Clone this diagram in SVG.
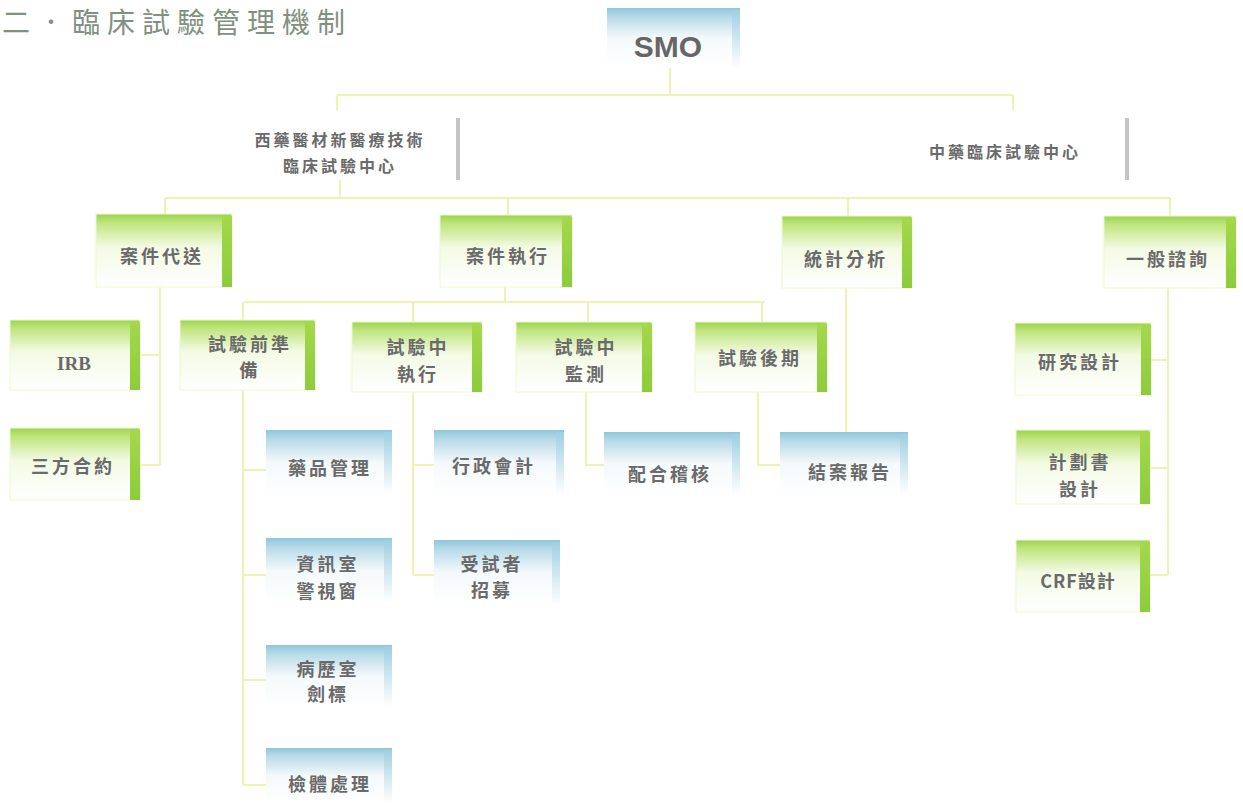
<svg xmlns="http://www.w3.org/2000/svg" width="1243" height="803" viewBox="0 0 1243 803">
<defs>
<linearGradient id="gG" x1="0" y1="0" x2="0" y2="1">
<stop offset="0" stop-color="#9cd44c"/>
<stop offset="0.12" stop-color="#bfe57e"/>
<stop offset="0.45" stop-color="#f3fae4"/>
<stop offset="1" stop-color="#ffffff"/>
</linearGradient>
<linearGradient id="gGs" x1="0" y1="0" x2="0" y2="1">
<stop offset="0" stop-color="#a4d84a"/>
<stop offset="1" stop-color="#8ccc3a"/>
</linearGradient>
<linearGradient id="gB" x1="0" y1="0" x2="0" y2="1">
<stop offset="0" stop-color="#8fc6dc"/>
<stop offset="0.15" stop-color="#b8dbe8"/>
<stop offset="0.5" stop-color="#f4f9fb"/>
<stop offset="1" stop-color="#ffffff"/>
</linearGradient>
<linearGradient id="gBs" x1="0" y1="0" x2="0" y2="1">
<stop offset="0" stop-color="#9fcfe2"/>
<stop offset="1" stop-color="#ffffff"/>
</linearGradient>
</defs>
<style>
.g{fill:url(#gG);stroke:#eef7d2;stroke-width:1}
.gs{fill:url(#gGs)}
.b{fill:url(#gB)}
.bs{fill:url(#gBs)}
.t{font-family:"Noto Sans CJK TC","Noto Sans CJK SC",sans-serif;font-weight:bold;fill:#6a6a6a;text-anchor:middle;font-size:18px;letter-spacing:3px}
.lab{font-size:16px}
.c{stroke:#eef3b4;stroke-width:2;fill:none}
.bar{fill:#c4c4c4}
</style>
<rect width="1243" height="803" fill="#ffffff"/>
<text x="2" y="33" style="font-family:'Noto Sans CJK TC','Noto Sans CJK SC',sans-serif;font-size:28px;fill:#82907f;letter-spacing:7px">二．臨床試驗管理機制</text>

<g id="connectors">
<path class="c" d="M670 68V95M337 95H1013M337 95V110M1013 95V110"/>
<path class="c" d="M340 180V198M165 198H1170M165 198V214M508 198V215M848 198V216M1170 198V216"/>
<path class="c" d="M160 287V465M140 355H160M140 465H160"/>
<path class="c" d="M505 287V302M243 302H765M243 302V320M413 302V322M588 302V322M762 302V322"/>
<path class="c" d="M243 390V785M243 470H266M243 575H266M243 680H266M243 785H266"/>
<path class="c" d="M413 392V575M413 465H434M413 575H434"/>
<path class="c" d="M586 392V465H604"/>
<path class="c" d="M758 392V465H780"/>
<path class="c" d="M846 287V432"/>
<path class="c" d="M1168 287V575M1150 360H1168M1150 468H1168M1150 575H1168"/>
</g>

<g id="smo">
<rect class="b" x="607" y="8" width="133" height="60"/>
<rect class="bs" x="732" y="10" width="8" height="58"/>
<text x="668" y="57" style="font-family:'Liberation Sans',sans-serif;font-weight:bold;font-size:30px;fill:#666;text-anchor:middle">SMO</text>
</g>

<g id="western-center">
<text class="t lab" x="340" y="146">西藥醫材新醫療技術</text>
<text class="t lab" x="340" y="172">臨床試驗中心</text>
<rect class="bar" x="456" y="118" width="4" height="62"/>
</g>
<g id="chinese-center">
<text class="t lab" x="1005" y="158">中藥臨床試驗中心</text>
<rect class="bar" x="1125" y="118" width="4" height="62"/>
</g>

<g id="case-submit">
<rect class="g" x="96" y="214" width="136" height="73"/>
<rect class="gs" x="222" y="216" width="10" height="71"/>
<text class="t" x="162" y="263">案件代送</text>
</g>
<g id="case-exec">
<rect class="g" x="440" y="215" width="132" height="72"/>
<rect class="gs" x="562" y="217" width="10" height="70"/>
<text class="t" x="508" y="263">案件執行</text>
</g>
<g id="stats">
<rect class="g" x="782" y="216" width="130" height="72"/>
<rect class="gs" x="902" y="218" width="10" height="70"/>
<text class="t" x="846" y="266">統計分析</text>
</g>
<g id="consult">
<rect class="g" x="1104" y="216" width="132" height="72"/>
<rect class="gs" x="1226" y="218" width="10" height="70"/>
<text class="t" x="1168" y="266">一般諮詢</text>
</g>

<g id="irb">
<rect class="g" x="10" y="320" width="130" height="70"/>
<rect class="gs" x="130" y="322" width="10" height="68"/>
<text x="74" y="370" style="font-family:'Liberation Serif',serif;font-weight:bold;font-size:19px;fill:#6a6a6a;text-anchor:middle">IRB</text>
</g>
<g id="contract">
<rect class="g" x="10" y="428" width="130" height="72"/>
<rect class="gs" x="130" y="430" width="10" height="70"/>
<text class="t" x="73" y="473">三方合約</text>
</g>
<g id="pre-trial">
<rect class="g" x="180" y="320" width="135" height="70"/>
<rect class="gs" x="305" y="322" width="10" height="68"/>
<text class="t" x="250" y="351">試驗前準</text>
<text class="t" x="250" y="377">備</text>
</g>
<g id="mid-exec">
<rect class="g" x="352" y="322" width="130" height="70"/>
<rect class="gs" x="472" y="324" width="10" height="68"/>
<text class="t" x="418" y="354">試驗中</text>
<text class="t" x="418" y="381">執行</text>
</g>
<g id="mid-monitor">
<rect class="g" x="516" y="322" width="136" height="70"/>
<rect class="gs" x="642" y="324" width="10" height="68"/>
<text class="t" x="586" y="354">試驗中</text>
<text class="t" x="586" y="381">監測</text>
</g>
<g id="post-trial">
<rect class="g" x="695" y="322" width="132" height="70"/>
<rect class="gs" x="817" y="324" width="10" height="68"/>
<text class="t" x="760" y="365">試驗後期</text>
</g>
<g id="study-design">
<rect class="g" x="1015" y="323" width="136" height="72"/>
<rect class="gs" x="1141" y="325" width="10" height="70"/>
<text class="t" x="1080" y="369">研究設計</text>
</g>
<g id="protocol-design">
<rect class="g" x="1016" y="430" width="134" height="74"/>
<rect class="gs" x="1140" y="432" width="10" height="72"/>
<text class="t" x="1080" y="469">計劃書</text>
<text class="t" x="1080" y="496">設計</text>
</g>
<g id="crf-design">
<rect class="g" x="1016" y="540" width="134" height="72"/>
<rect class="gs" x="1140" y="542" width="10" height="70"/>
<text class="t" x="1078" y="588" style="letter-spacing:1px">CRF設計</text>
</g>

<g id="drug-mgmt">
<rect class="b" x="266" y="430" width="126" height="65"/>
<rect class="bs" x="384" y="432" width="8" height="63"/>
<text class="t" x="330" y="475">藥品管理</text>
</g>
<g id="info-room">
<rect class="b" x="266" y="538" width="126" height="65"/>
<rect class="bs" x="384" y="540" width="8" height="63"/>
<text class="t" x="328" y="571">資訊室</text>
<text class="t" x="328" y="598">警視窗</text>
</g>
<g id="records-room">
<rect class="b" x="266" y="645" width="126" height="62"/>
<rect class="bs" x="384" y="647" width="8" height="60"/>
<text class="t" x="328" y="676">病歷室</text>
<text class="t" x="328" y="701">劍標</text>
</g>
<g id="specimen">
<rect class="b" x="266" y="748" width="126" height="55"/>
<rect class="bs" x="384" y="750" width="8" height="53"/>
<text class="t" x="330" y="791">檢體處理</text>
</g>
<g id="admin-acct">
<rect class="b" x="434" y="430" width="130" height="65"/>
<rect class="bs" x="556" y="432" width="8" height="63"/>
<text class="t" x="494" y="473">行政會計</text>
</g>
<g id="recruit">
<rect class="b" x="434" y="540" width="126" height="65"/>
<rect class="bs" x="552" y="542" width="8" height="63"/>
<text class="t" x="492" y="571">受試者</text>
<text class="t" x="492" y="597">招募</text>
</g>
<g id="audit">
<rect class="b" x="604" y="432" width="136" height="63"/>
<rect class="bs" x="732" y="434" width="8" height="61"/>
<text class="t" x="670" y="481">配合稽核</text>
</g>
<g id="final-report">
<rect class="b" x="780" y="432" width="128" height="63"/>
<rect class="bs" x="900" y="434" width="8" height="61"/>
<text class="t" x="850" y="479">結案報告</text>
</g>
</svg>
